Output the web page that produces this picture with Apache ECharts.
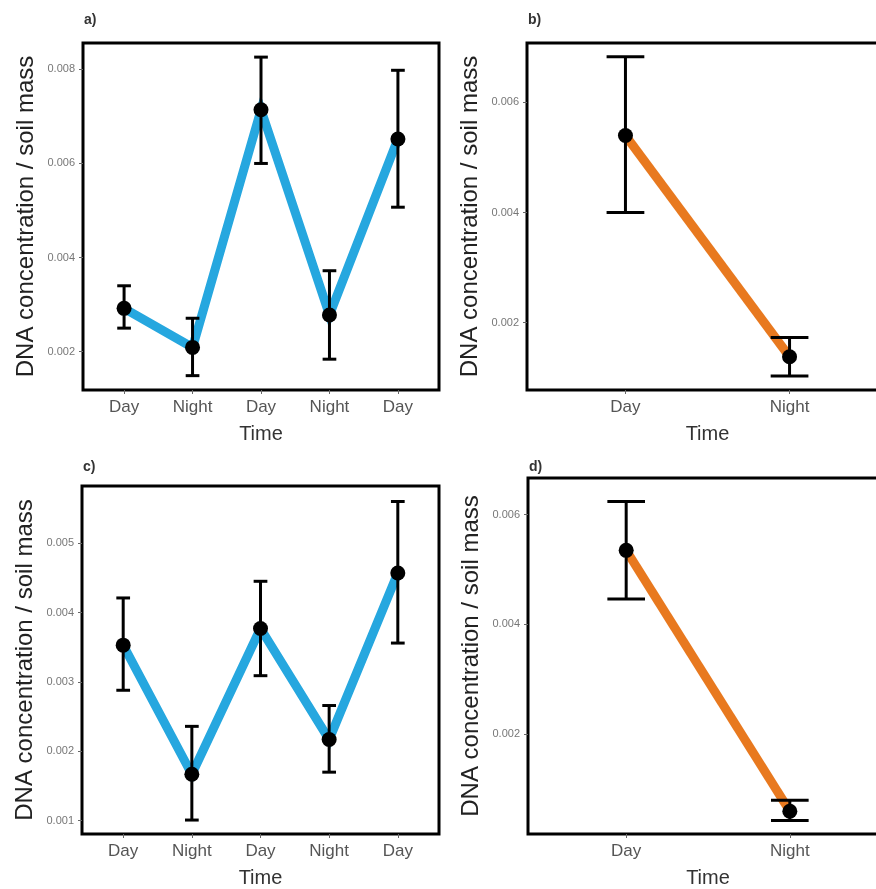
<!DOCTYPE html>
<html>
<head>
<meta charset="utf-8">
<script src="https://cdn.jsdelivr.net/npm/echarts@6/dist/echarts.min.js"></script>
<style>
	html, body {margin:0; padding:0; background:#fff; overflow:hidden;}
	#main {width:900px; height:889px;}
</style>
</head>
<body>
<div id="main"></div>
<script>
// panel a) / c) : five sampling times
var timeLong = ['Day', 'Night', 'Day', 'Night', 'Day'];
// panel b) / d) : two sampling times
var timeShort = ['Day', 'Night'];

var meanA = [0.00292, 0.00209, 0.00714, 0.00278, 0.00652];
var lowA  = [0.00250, 0.00149, 0.00600, 0.00184, 0.00507];
var highA = [0.00340, 0.00271, 0.00826, 0.00372, 0.00798];

var meanB = [0.00540, 0.00138];
var lowB  = [0.00400, 0.00103];
var highB = [0.00683, 0.00173];

var meanC = [0.00353, 0.00167, 0.00377, 0.00217, 0.00457];
var lowC  = [0.00288, 0.00101, 0.00309, 0.00170, 0.00356];
var highC = [0.00421, 0.00236, 0.00445, 0.00266, 0.00560];

var meanD = [0.00535, 0.00059];
var lowD  = [0.00446, 0.00042];
var highD = [0.00624, 0.00079];

var yTicksA = [0.002, 0.004, 0.006, 0.008];
var yTicksB = [0.002, 0.004, 0.006];
var yTicksC = [0.001, 0.002, 0.003, 0.004, 0.005];
var yTicksD = [0.002, 0.004, 0.006];

var FONT = "'Liberation Sans', Arial, sans-serif";
var BLUE = '#26a7df';
var ORANGE = '#e8791f';

var grids = [], xAxes = [], yAxes = [], series = [], titles = [];

function addPanel(idx, label, box, cats, mean, low, high, yTicks, yMin, yMax, color, cap){
	var n = cats.length;
	var pos = cats.map(function(c, i){ return i + 1; });
	grids.push({
		left: box[0], top: box[1], width: box[2], height: box[3],
		show: true, borderColor: '#000', borderWidth: 3, backgroundColor: '#fff'
	});
	titles.push({
		text: label, left: box[0] - 4, top: box[4],
		textStyle: {fontFamily: FONT, fontSize: 14, fontWeight: 'bold', color: '#333'}
	});
	xAxes.push({
		gridIndex: idx, type: 'value', min: 0.4, max: n + 0.6,
		name: 'Time', nameLocation: 'middle', nameGap: 34,
		nameTextStyle: {fontFamily: FONT, fontSize: 20, color: '#333'},
		axisLine: {show: false},
		axisTick: {show: true, customValues: pos, length: 4, lineStyle: {color: '#666'}},
		axisLabel: {
			customValues: pos, margin: 9,
			fontFamily: FONT, fontSize: 17, color: '#555',
			formatter: function(v){ return cats[Math.round(v) - 1]; }
		},
		splitLine: {show: false}
	});
	yAxes.push({
		gridIndex: idx, type: 'value', min: yMin, max: yMax,
		name: 'DNA concentration / soil mass', nameLocation: 'middle', nameGap: 45,
		nameTextStyle: {fontFamily: FONT, fontSize: 24, color: '#222'},
		axisLine: {show: false},
		axisTick: {show: true, customValues: yTicks, length: 4, lineStyle: {color: '#666'}},
		axisLabel: {
			customValues: yTicks, margin: 8,
			fontFamily: FONT, fontSize: 11, color: '#777',
			formatter: function(v){ return v.toFixed(3); }
		},
		splitLine: {show: false}
	});
	var lineData = [], barData = [];
	eachOf(mean, function(i, v){
		lineData.push([pos[i], v]);
		barData.push([pos[i], low[i], high[i]]);
	});
	series.push({
		type: 'line', xAxisIndex: idx, yAxisIndex: idx,
		data: lineData, symbol: 'none',
		lineStyle: {color: color, width: 9, cap: 'butt', join: 'miter'},
		z: 2, silent: true
	});
	series.push({
		type: 'custom', xAxisIndex: idx, yAxisIndex: idx,
		data: barData, z: 3, silent: true,
		renderItem: function(params, api){
			var x = api.value(0);
			var bot = api.coord([x, api.value(1)]);
			var top = api.coord([x, api.value(2)]);
			var half = api.size([cap, 0])[0] / 2;
			var st = {stroke: '#000', lineWidth: 3};
			return {type: 'group', children: [
				{type: 'line', shape: {x1: top[0], y1: top[1], x2: bot[0], y2: bot[1]}, style: st},
				{type: 'line', shape: {x1: top[0] - half, y1: top[1], x2: top[0] + half, y2: top[1]}, style: st},
				{type: 'line', shape: {x1: bot[0] - half, y1: bot[1], x2: bot[0] + half, y2: bot[1]}, style: st}
			]};
		}
	});
	series.push({
		type: 'scatter', xAxisIndex: idx, yAxisIndex: idx,
		data: lineData, symbolSize: 15,
		itemStyle: {color: '#000', opacity: 1},
		z: 4, silent: true
	});
}

function eachOf(arr, fn){
	for (var i = 0; i < arr.length; i++) fn(i, arr[i]);
}

// box: left, top, width, height, label top
addPanel(0, 'a)', [83, 43, 356, 347, 8],  timeLong,  meanA, lowA, highA, yTicksA, 0.001185, 0.00856, BLUE, 0.2);
addPanel(1, 'b)', [527, 43, 361, 347, 8], timeShort, meanB, lowB, highB, yTicksB, 0.000776, 0.00708, ORANGE, 0.23);
addPanel(2, 'c)', [82, 486, 357, 349, 455], timeLong,  meanC, lowC, highC, yTicksC, 0.000809, 0.005823, BLUE, 0.2);
addPanel(3, 'd)', [528, 478, 360, 356, 455], timeShort, meanD, lowD, highD, yTicksD, 0.000174, 0.00667, ORANGE, 0.23);

var chart = echarts.init(document.getElementById('main'));
chart.setOption({
	animation: false,
	backgroundColor: '#fff',
	title: titles,
	grid: grids,
	xAxis: xAxes,
	yAxis: yAxes,
	series: series
});
</script>
</body>
</html>
